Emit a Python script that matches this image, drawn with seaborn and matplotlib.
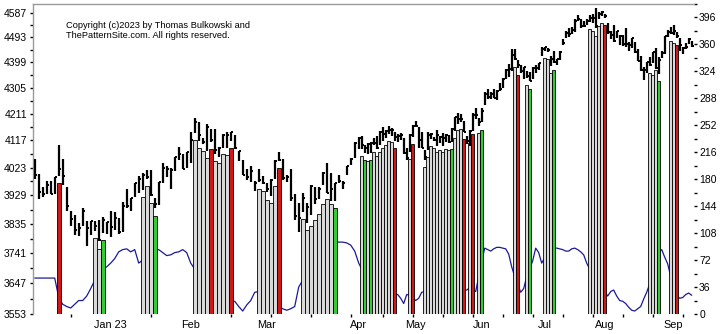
import numpy as np
import matplotlib
matplotlib.use("Agg")
import matplotlib.pyplot as plt
from matplotlib.ticker import FixedLocator, FixedFormatter, NullFormatter
import seaborn as sns
import pandas as pd

# ---------------- data (trading days Dec 5 2022 .. Sep 12 2023) ----------------
high = [4052, 4001, 3957, 3977, 3977, 3990, 4101, 4052, 3958, 3876, 3864, 3839, 3889, 3846, 3845, 3846, 3848, 3858, 3840,
        3879, 3874, 3853, 3907, 3951, 3920, 3970, 3996, 4004, 4015, 4015, 3920, 3973, 4039, 4028, 4020, 4061, 4095, 4068, 4077,
        4148, 4195, 4182, 4126, 4176, 4157, 4157, 4094, 4138, 4148, 4148, 4136, 4081, 4050, 4017, 4029, 3979, 4018, 3995,
        3972, 3983, 4049, 4078, 4051, 3998, 4017, 3935, 3905, 3937, 3903, 3965, 3958, 3956, 4009, 4039, 4003, 3972, 3998, 3979, 4030, 4056, 4110,
        4128, 4133, 4100, 4108, 4110, 4124, 4132, 4150, 4164, 4152, 4169, 4162, 4148, 4138, 4142, 4126, 4089, 4138, 4170,
        4186, 4164, 4148, 4082, 4147, 4142, 4130, 4154, 4132, 4143, 4141, 4136, 4159, 4199, 4213, 4209, 4186, 4131, 4154, 4213, 4231, 4195,
        4232, 4290, 4299, 4288, 4299, 4298, 4322, 4340, 4375, 4391, 4448, 4448, 4408, 4390, 4382, 4366, 4362, 4380, 4390, 4398, 4458,
        4456, 4454, 4422, 4440, 4412, 4443, 4488, 4517, 4528, 4532, 4562, 4578, 4565, 4555, 4564, 4580, 4582, 4607, 4590, 4595,
        4584, 4550, 4519, 4540, 4519, 4503, 4502, 4527, 4476, 4490, 4477, 4449, 4421, 4381, 4400, 4419, 4437, 4452, 4418, 4440, 4500, 4521, 4532,
        4541, 4514, 4491, 4458, 4473, 4490, 4478]
low = [3984, 3918, 3923, 3933, 3933, 3935, 3994, 3965, 3879, 3827, 3800, 3796, 3827, 3765, 3798, 3813, 3780, 3805, 3801,
       3794, 3815, 3802, 3809, 3889, 3877, 3925, 3937, 3947, 3984, 3928, 3886, 3898, 3971, 3990, 3949, 4013, 4049, 4017, 4021,
       4037, 4142, 4115, 4104, 4080, 4111, 4069, 4061, 4092, 4091, 4114, 4088, 4047, 3997, 3981, 3973, 3943, 3973, 3969,
       3939, 3928, 3984, 4044, 3980, 3975, 3909, 3847, 3809, 3874, 3839, 3864, 3901, 3916, 3963, 3936, 3909, 3909, 3970, 3952, 3999, 4033, 4056,
       4087, 4086, 4072, 4070, 4073, 4102, 4086, 4100, 4114, 4124, 4139, 4134, 4114, 4113, 4117, 4071, 4049, 4075, 4128,
       4163, 4089, 4089, 4048, 4082, 4123, 4116, 4099, 4109, 4099, 4111, 4109, 4111, 4151, 4176, 4180, 4145, 4106, 4098, 4151, 4192, 4167,
       4180, 4242, 4263, 4263, 4267, 4262, 4292, 4304, 4338, 4345, 4367, 4407, 4377, 4360, 4337, 4341, 4328, 4336, 4360, 4371, 4422,
       4442, 4437, 4385, 4397, 4389, 4409, 4463, 4489, 4494, 4504, 4515, 4557, 4527, 4532, 4541, 4553, 4547, 4528, 4564, 4577,
       4567, 4505, 4485, 4474, 4491, 4464, 4461, 4458, 4443, 4453, 4432, 4403, 4365, 4335, 4360, 4384, 4397, 4375, 4357, 4414, 4431, 4493, 4507,
       4501, 4492, 4442, 4431, 4448, 4467, 4457]
close = [3998, 3941, 3933, 3963, 3934, 3990, 4019, 3995, 3895, 3852, 3817, 3821, 3878, 3822, 3845, 3829, 3783, 3849, 3840,
         3825, 3853, 3808, 3895, 3893, 3919, 3970, 3983, 3999, 3991, 3929, 3899, 3973, 4020, 4017, 4016, 4060, 4071, 4018, 4077,
         4119, 4180, 4136, 4111, 4164, 4118, 4082, 4090, 4137, 4136, 4148, 4090, 4079, 3997, 3991, 4012, 3970, 3982, 3970,
         3951, 3981, 4046, 4048, 3986, 3992, 3919, 3862, 3856, 3920, 3892, 3960, 3917, 3952, 4003, 3937, 3949, 3971, 3977, 3971, 4027, 4051, 4109,
         4124, 4100, 4091, 4105, 4109, 4108, 4092, 4146, 4138, 4151, 4154, 4154, 4130, 4133, 4137, 4072, 4056, 4136, 4169,
         4168, 4119, 4091, 4061, 4136, 4138, 4119, 4137, 4130, 4124, 4136, 4110, 4158, 4198, 4192, 4193, 4146, 4116, 4151, 4205, 4206, 4180,
         4221, 4282, 4273, 4283, 4268, 4293, 4299, 4338, 4369, 4373, 4426, 4410, 4389, 4366, 4382, 4348, 4328, 4378, 4377, 4396, 4450,
         4456, 4446, 4411, 4399, 4410, 4439, 4472, 4510, 4505, 4522, 4555, 4565, 4535, 4536, 4554, 4567, 4566, 4538, 4582, 4589,
         4577, 4513, 4502, 4478, 4518, 4499, 4468, 4468, 4464, 4490, 4437, 4404, 4370, 4370, 4400, 4388, 4436, 4376, 4406, 4433, 4498, 4515, 4508,
         4516, 4497, 4465, 4451, 4458, 4487, 4462]
# indicator line (right axis)
osc = [48, 48, 48, 48, 48, 48, 22, 13, 10, 8, 13, 18, 18, 24, 34, 45, 55, 60, 63,
       68, 74, 83, 86, 87, 83, 86, 68, 72, 76, 80, 84, 86, 82, 78, 79, 82, 83, 86, 82,
       68, 60, 50, 40, 35, 30, 25, 22, 20, 18, 17, 17, 10, 4, 12, 18, 29, 30, 28,
       25, 20, 15, 10, 7, 5, 7, 10, 36, 45, 55, 65, 75, 85, 90, 94, 96, 97, 96, 96, 95, 92, 84,
       68, 60, 50, 45, 40, 35, 32, 30, 28, 27, 26, 26, 27, 26, 21, 14, 26, 25, 22,
       18, 21, 29, 30, 30, 31, 31, 32, 32, 32, 31, 31, 31, 32, 32, 32, 32, 32, 35, 33, 30, 50, 70,
       88, 86, 84, 87, 89, 89, 88, 87, 80, 63, 50, 40, 29, 34, 50, 60, 71, 88, 82, 68,
       75, 80, 85, 88, 88, 87, 86, 84, 84, 87, 88, 86, 83, 79, 68, 60, 50, 45, 40, 35,
       30, 24, 30, 32, 24, 18, 17, 14, 9, 5, 4, 7, 10, 20, 29, 40, 55, 70, 82, 86, 76, 67,
       50, 35, 25, 21, 22, 26, 28, 25]

# highlighted columns: day index, top value, kind
bar_idx = [6,
           15, 16, 17,
           27, 28, 29, 30,
           40, 41, 42, 43, 44, 45, 46, 47, 48, 49,
           56, 57, 58, 59, 60, 61,
           67, 68, 69, 70, 71, 72, 73, 74, 75,
           82, 83, 84, 85, 86, 87, 88, 89, 90, 91, 92, 93,
           98, 99,
           103, 104, 105, 106, 107, 108, 109, 110, 111, 112, 113, 114, 115, 116,
           118, 119,
           121, 122,
           133, 134,
           137, 138,
           143, 144, 145, 146,
           158, 159, 160, 161, 162, 163,
           178, 179, 180, 181,
           185, 186, 187]
bar_top = [3971,
           3790, 3753, 3783,
           3923, 3961, 3904, 3862,
           4118, 4091, 4080, 4056, 4087, 4045, 4037, 4068, 4067, 4090,
           3949, 3945, 3915, 3904, 3960, 4020,
           3850, 3816, 3830, 3848, 3866, 3900, 3917, 3900, 3889,
           4062, 4048, 4046, 4049, 4078, 4062, 4076, 4090, 4100, 4115, 4110, 4090,
           4051, 4104,
           4024, 4058, 4099, 4092, 4075, 4085, 4075, 4087, 4085, 4087, 4127, 4152, 4156, 4121,
           4108, 4140,
           4142, 4155,
           4380, 4350,
           4315, 4302,
           4415, 4410, 4358, 4370,
           4525, 4519, 4500, 4536, 4549, 4539,
           4358, 4352, 4370, 4331,
           4479, 4473, 4464]
bar_kind = ["red",
            "gray", "gray", "green",
            "gray", "gray", "gray", "green",
            "gray", "gray", "gray", "gray", "red", "gray", "gray", "gray", "gray", "red",
            "gray", "gray", "gray", "gray", "gray", "red",
            "gray", "gray", "gray", "gray", "gray", "gray", "gray", "gray", "green",
            "gray", "green", "gray", "green", "gray", "gray", "gray", "gray", "gray", "gray", "gray", "red",
            "gray", "red",
            "gray", "gray", "gray", "gray", "gray", "gray", "gray", "gray", "gray", "green", "gray", "gray", "gray", "red",
            "gray", "red",
            "gray", "green",
            "gray", "red",
            "gray", "green",
            "gray", "gray", "gray", "green",
            "gray", "gray", "gray", "gray", "gray", "red",
            "gray", "gray", "gray", "green",
            "gray", "gray", "red"]

month_idx = [19, 39, 58, 81, 100, 122, 143, 163, 186]
month_lbl = ["Jan 23", "Feb", "Mar", "Apr", "May", "Jun", "Jul", "Aug", "Sep"]
left_ticks = [3553, 3647, 3741, 3835, 3929, 4023, 4117, 4211, 4305, 4399, 4493, 4587]
right_ticks = [0, 36, 72, 108, 144, 180, 216, 252, 288, 324, 360, 396]

# ---------------- figure ----------------
sns.set_theme(style="white")
plt.rcParams["font.family"] = ["Liberation Sans", "DejaVu Sans"]

W, H = 725, 334
Lp, Rp, Tp, Bp = 33, 694, 4, 314
fig = plt.figure(figsize=(W / 100, H / 100), dpi=100)
ax = fig.add_axes([Lp / W, 1 - Bp / H, (Rp - Lp) / W, (Bp - Tp) / H])


def fwd(x):
    x = np.asarray(x, dtype=float)
    return np.where(x <= 81, 4 * x, 324 + 3 * (x - 81))


def inv(u):
    u = np.asarray(u, dtype=float)
    return np.where(u <= 324, u / 4, 81 + (u - 324) / 3)


ax.set_xscale("function", functions=(fwd, inv))
ax2 = ax.twinx()
ax.set_zorder(ax2.get_zorder() + 1)
ax.patch.set_visible(False)

days = np.arange(len(high))
df = pd.DataFrame({"day": days, "osc": osc})
sns.lineplot(data=df, x="day", y="osc", ax=ax2, color="#1a1a99", linewidth=0.9, legend=False)

ax.set_yscale("log")
colors = {"gray": "#d9d9d9", "red": "#d01818", "green": "#33cc33"}
bt = np.array(bar_top, dtype=float)
ax.bar(bar_idx, bt - 3553, bottom=3553, width=1.0,
       color=[colors[k] for k in bar_kind], edgecolor="black", linewidth=0.6, zorder=2)

ax.vlines(days, low, high, color="black", linewidth=1.6, zorder=3)
ax.hlines(close, days, days + 0.65, color="black", linewidth=1.4, zorder=3)

ax.set_xlim(-0.43, 192.77)
ax.set_ylim(3553, 4622)
ax2.set_ylim(0, 407.8)

# y ticks left
ax.yaxis.set_major_locator(FixedLocator(left_ticks))
ax.yaxis.set_major_formatter(FixedFormatter([str(v) for v in left_ticks]))
mids = [(a + b) / 2 for a, b in zip(left_ticks[:-1], left_ticks[1:])] + [4634]
ax.yaxis.set_minor_locator(FixedLocator(mids))
ax.yaxis.set_minor_formatter(NullFormatter())
# y ticks right
ax2.set_yticks(right_ticks)
ax2.set_yticklabels([str(v) for v in right_ticks])
ax2.set_yticks([v + 18 for v in right_ticks], minor=True)
ax2.set_xlabel("")
ax2.set_ylabel("")

# x ticks
ax.xaxis.set_major_locator(FixedLocator(month_idx))
ax.xaxis.set_major_formatter(FixedFormatter(month_lbl))
ax.xaxis.set_minor_locator(FixedLocator(list(range(9, 193, 10))))
ax.xaxis.set_minor_formatter(NullFormatter())

ax.tick_params(axis="x", which="major", length=0, pad=4.5, labelsize=7.8, colors="black")
ax.tick_params(axis="x", which="minor", length=2.2, width=1, direction="out", color="black", bottom=True)
ax.tick_params(axis="y", which="both", left=True, length=2.2, width=1, direction="out", color="black")
ax.tick_params(axis="y", which="major", pad=2.2, labelsize=7.5, labelcolor="black")
ax2.tick_params(axis="y", which="both", right=True, length=2.2, width=1, direction="out", color="black")
ax2.tick_params(axis="y", which="major", pad=1.5, labelsize=7.5, labelcolor="black")

for a in (ax, ax2):
    for s in a.spines.values():
        s.set_visible(False)
for s in ("left", "top"):
    ax.spines[s].set_visible(True)
    ax.spines[s].set_color("#9a9a9a")
    ax.spines[s].set_linewidth(1.0)

fig.text(65.7 / W, 1 - 25 / H, "Copyright (c)2023 by Thomas Bulkowski and",
         fontsize=6.7, ha="left", va="center", color="black")
fig.text(65.7 / W, 1 - 35.7 / H, "ThePatternSite.com. All rights reserved.",
         fontsize=6.7, ha="left", va="center", color="black")

fig.savefig("out.png", dpi=100)
